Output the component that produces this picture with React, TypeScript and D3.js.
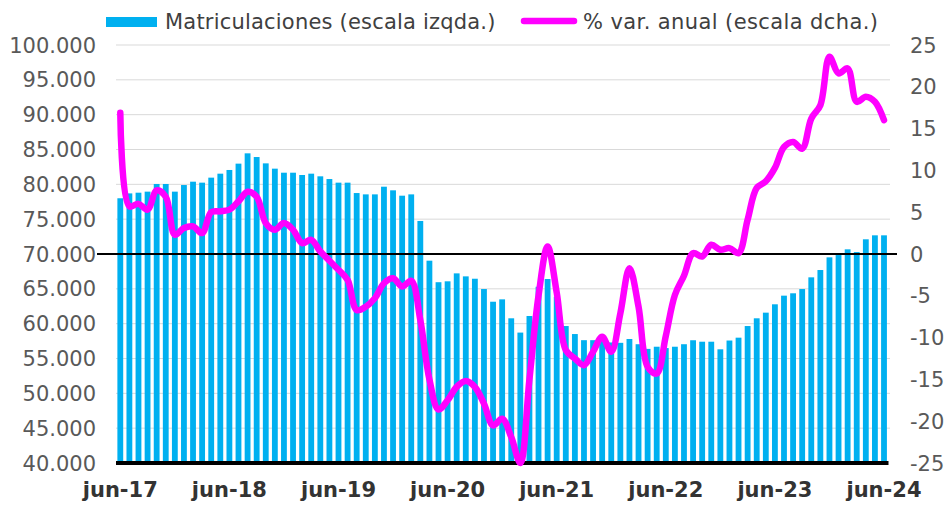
import React from "react";
import * as d3 from "d3";

// Monthly data, jun-17 .. jun-24
const months: string[] = (() => {
  const names = ["ene", "feb", "mar", "abr", "may", "jun", "jul", "ago", "sep", "oct", "nov", "dic"];
  const out: string[] = [];
  for (let i = 0; i < 85; i++) {
    const m = (5 + i) % 12;
    const y = 17 + Math.floor((5 + i) / 12);
    out.push(`${names[m]}-${y}`);
  }
  return out;
})();

const matriculaciones: number[] = [
  78000, 78700, 78800, 78950, 80050, 80050, 78950, 79900, 80380, 80240, 80960, 81530,
  82060, 82970, 84450, 83920, 83010, 82250, 81670, 81670, 81340, 81530, 81150, 80760,
  80240, 80240, 78750, 78560, 78560, 79660, 79140, 78370, 78560, 74740, 69040, 65950,
  66080, 67220, 66790, 66450, 64970, 63150, 63490, 60770, 58720, 61100, 65300, 66410,
  63870, 59660, 58510, 57630, 57630, 58130, 57300, 57250, 57800, 57050, 56380, 56690,
  56500, 56690, 57050, 57620, 57410, 57410, 56320, 57580, 57990, 59660, 60770, 61580,
  62780, 64020, 64360, 64970, 66650, 67700, 69520, 69850, 70670, 70280, 72110, 72680,
  72680,
];

const varAnual: number[] = [
  16.9, 5.7, 6.0, 5.3, 7.6, 6.85, 2.3, 3.1, 3.3, 2.5, 5.0, 5.1,
  5.3, 6.3, 7.45, 6.85, 3.7, 2.9, 3.7, 2.9, 1.3, 1.7, 0.3, -0.8,
  -1.9, -3.1, -6.7, -6.3, -5.3, -3.5, -2.9, -3.9, -3.2, -7.9, -15.0, -18.6,
  -17.5, -15.9, -15.2, -15.9, -17.9, -20.5, -19.7, -21.9, -25.0, -15.0, -5.0, 0.9,
  -4.6, -11.5, -12.5, -13.3, -11.7, -9.9, -11.7, -7.1, -1.7, -6.3, -13.5, -14.3,
  -9.8, -4.9, -2.6, 0.1, -0.3, 1.1, 0.5, 0.7, 0.1, 4.1, 7.9, 8.7,
  10.3, 12.8, 13.4, 12.6, 16.2, 17.8, 23.6, 21.6, 22.2, 18.2, 18.8, 18.2,
  16.0,
];

const leftTicks: number[] = [40000, 45000, 50000, 55000, 60000, 65000, 70000, 75000, 80000, 85000, 90000, 95000, 100000];
const rightTicks: number[] = [-25, -20, -15, -10, -5, 0, 5, 10, 15, 20, 25];
const xTickLabels: string[] = ["jun-17", "jun-18", "jun-19", "jun-20", "jun-21", "jun-22", "jun-23", "jun-24"];

const legendBars = "Matriculaciones (escala izqda.)";
const legendLine = "% var. anual (escala dcha.)";

const W = 949;
const H = 505;
const FONT = "'DejaVu Sans', Verdana, sans-serif";
const BLUE = "#00B0F0";
const MAGENTA = "#FF00FF";

export default function App() {
  const x = d3
    .scaleBand<string>()
    .domain(months)
    .range([115.75, 888.55])
    .paddingInner(0.36)
    .paddingOuter(0.18);
  const yL = d3.scaleLinear().domain([40000, 100000]).range([463, 45]);
  const yR = d3.scaleLinear().domain([-25, 25]).range([463, 45]);
  const cx = (m: string) => (x(m) as number) + x.bandwidth() / 2;

  const line = d3
    .line<number>()
    .x((_, i) => cx(months[i]))
    .y((d) => yR(d))
    .curve(d3.curveCatmullRom.alpha(0.5));

  const fmt = (v: number) => d3.format(",")(v).replace(/,/g, ".");

  return (
    <svg
      width={W}
      height={H}
      style={{ position: "absolute", left: 0, top: 0, background: "#fff" }}
      fontFamily={FONT}
    >
      {/* gridlines */}
      {leftTicks.slice(1).map((t) => (
        <line key={t} x1={116} x2={890} y1={yL(t)} y2={yL(t)} stroke="#d9d9d9" strokeWidth={1} />
      ))}
      {/* bars */}
      {matriculaciones.map((v, i) => (
        <rect
          key={i}
          x={x(months[i])}
          y={yL(v)}
          width={x.bandwidth()}
          height={yL(40000) - yL(v)}
          fill={BLUE}
        />
      ))}
      {/* zero line */}
      <line x1={97} x2={897} y1={yR(0)} y2={yR(0)} stroke="#000" strokeWidth={2} />
      {/* bottom axis */}
      <line x1={116} x2={888.5} y1={yL(40000)} y2={yL(40000)} stroke="#000" strokeWidth={4} />
      {/* line series */}
      <path
        d={line(varAnual) || ""}
        fill="none"
        stroke={MAGENTA}
        strokeWidth={6.5}
        strokeLinejoin="round"
        strokeLinecap="round"
      />
      {/* left ticks */}
      {leftTicks.map((t) => (
        <text
          key={t}
          x={96}
          y={yL(t)}
          dy="0.36em"
          textAnchor="end"
          fontSize={21}
          fill="#595959"
        >
          {fmt(t)}
        </text>
      ))}
      {/* right ticks */}
      {rightTicks.map((t) => (
        <text key={t} x={910} y={yR(t)} dy="0.36em" textAnchor="start" fontSize={21} fill="#595959">
          {t}
        </text>
      ))}
      {/* x labels */}
      {xTickLabels.map((lab, k) => (
        <text
          key={lab}
          x={cx(months[k * 12])}
          y={497}
          textAnchor="middle"
          fontSize={21}
          fontWeight="bold"
          fill="#333"
        >
          {lab}
        </text>
      ))}
      {/* legend */}
      <rect x={106} y={17} width={51} height={10} fill={BLUE} />
      <text x={165} y={28.5} fontSize={21} letterSpacing={0.2} fill="#404040">
        {legendBars}
      </text>
      <line x1={524} x2={574} y1={21} y2={21} stroke={MAGENTA} strokeWidth={6.5} strokeLinecap="round" />
      <text x={583} y={28.5} fontSize={21} letterSpacing={0.4} fill="#404040">
        {legendLine}
      </text>
    </svg>
  );
}
